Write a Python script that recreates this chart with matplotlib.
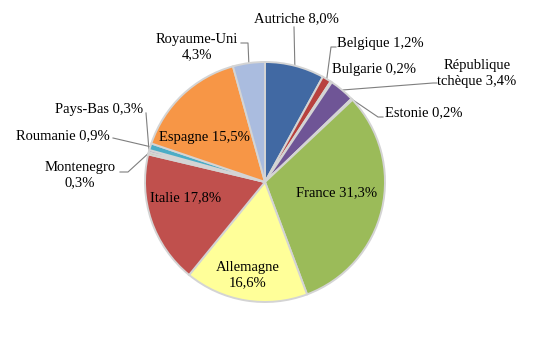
import numpy as np
import matplotlib
matplotlib.use("Agg")
import matplotlib.pyplot as plt

# --- data (percent shares, clockwise from 12 o'clock) ---
countries = ["Autriche", "Belgique", "Bulgarie", "République\ntchèque", "Estonie",
             "France", "Allemagne", "Italie", "Montenegro", "Pays-Bas",
             "Roumanie", "Espagne", "Royaume-Uni"]
shares = [8.0, 1.2, 0.2, 3.4, 0.2, 31.3, 16.6, 17.8, 0.3, 0.3, 0.9, 15.5, 4.3]
colors = ["#4169A3", "#B8413E", "#9BBB59", "#6F5596", "#4BACC6", "#9BBB59", "#FFFF99",
          "#C0504D", "#9BBB59", "#8064A2", "#4BACC6", "#F79646", "#AABCDF"]

W, H = 538, 353
CX, CY, R = 265, 182, 120        # pie centre / radius in pixels (y from top)

def P(x, y):                      # pixel (top-left origin) -> data coords
    return x, H - y

# label layout: text position (px), ha, line break between name and value, leader elbow path
LAYOUT = {
    "Autriche":    dict(xy=(296, 19), ha="center", sep=" ", path=[(294, 27)]),
    "Belgique":    dict(xy=(337, 43), ha="left", sep=" ", path=[(331, 47), (336, 47)]),
    "Bulgarie":    dict(xy=(332, 69), ha="left", sep=" ", path=None),
    "République\ntchèque": dict(xy=(477, 73), ha="center", sep=" ", path=[(433, 83), (437, 83)]),
    "Estonie":     dict(xy=(385, 113), ha="left", sep=" ", path=[(378, 117), (383, 117)]),
    "France":      dict(xy=(337, 193), ha="center", sep=" ", path=None),
    "Allemagne":   dict(xy=(248, 275), ha="center", sep="\n", path=None),
    "Italie":      dict(xy=(186, 198), ha="center", sep=" ", path=None),
    "Montenegro":  dict(xy=(80, 175), ha="center", sep="\n", path=[(128, 172), (120, 172)]),
    "Pays-Bas":    dict(xy=(143, 109), ha="right", sep=" ", path=[(146, 113)]),
    "Roumanie":    dict(xy=(110, 136), ha="right", sep=" ", path=[(113, 138)]),
    "Espagne":     dict(xy=(204, 138), ha="center", sep=" ", path=None),
    "Royaume-Uni": dict(xy=(197, 47), ha="center", sep="\n", path=[(248, 43), (241, 43)]),
}

plt.rcParams["font.family"] = ["Liberation Serif", "DejaVu Serif"]
fig = plt.figure(figsize=(W / 100, H / 100), dpi=100)
ax = fig.add_axes([0, 0, 1, 1])

wedges, _ = ax.pie(shares, colors=colors, startangle=90, counterclock=False,
                   center=P(CX, CY), radius=R,
                   wedgeprops=dict(edgecolor="#D4D4D4", linewidth=1.4))
ax.set_xlim(0, W)
ax.set_ylim(0, H)
ax.set_aspect("equal")
ax.axis("off")

cum = np.cumsum([0] + shares)
for i, (name, v) in enumerate(zip(countries, shares)):
    lay = LAYOUT[name]
    txt = name + lay["sep"] + f"{v:.1f}".replace(".", ",") + "%"
    ax.text(*P(*lay["xy"]), txt, ha=lay["ha"], va="center", fontsize=10.5,
            linespacing=1.3, multialignment="center", color="black")
    if lay["path"]:
        mid = np.radians((cum[i] + v / 2) / 100 * 360)
        start = (CX + R * np.sin(mid), CY - R * np.cos(mid))
        pts = [start] + lay["path"]
        xs, ys = zip(*[P(*p) for p in pts])
        ax.plot(xs, ys, color="#7F7F7F", lw=0.8, zorder=0.5)

fig.savefig("out.png", dpi=100)
